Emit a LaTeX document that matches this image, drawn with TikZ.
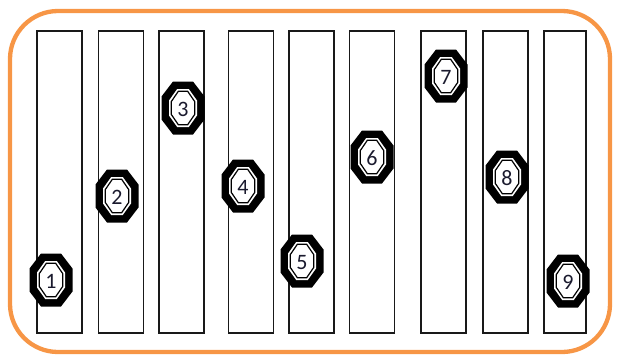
\documentclass[tikz,border=0pt]{standalone}
\usepackage{fontspec}
\newfontfamily\numfont{Carlito}
\definecolor{frameorange}{HTML}{F79646}
\definecolor{digitcol}{HTML}{1A1A2E}
\tikzset{
  bar/.style={draw=black!90, line width=1.5pt, fill=white, minimum width=45pt, minimum height=302pt, inner sep=0pt, anchor=north west},
  numtxt/.style={font=\numfont\fontsize{22}{22}\selectfont, text=digitcol, inner sep=0pt},
}
% octagon path: centre x,y ; half width a ; half height b ; cuts cx, cy
\newcommand\octp[6]{({#1-#3+#5},{#2-#4}) -- ({#1+#3-#5},{#2-#4}) -- ({#1+#3},{#2-#4+#6}) -- ({#1+#3},{#2+#4-#6}) -- ({#1+#3-#5},{#2+#4}) -- ({#1-#3+#5},{#2+#4}) -- ({#1-#3},{#2+#4-#6}) -- ({#1-#3},{#2-#4+#6}) -- cycle}
\newcommand\badge[4]{%
  \fill[black] \octp{#2}{#3}{21.5}{26.5}{11.5}{15};
  \fill[white] \octp{#2}{#3}{14}{19}{8.2}{11.5};
  \draw[black, line width=1.2pt, fill=white, line join=miter] \octp{#2}{#3}{11.8}{16.8}{7.2}{10.5};
  \node[numtxt] (#1) at (#2,#3+1.5) {#4};
}
\begin{document}
\begin{tikzpicture}[x=1pt,y=-1pt]
\useasboundingbox (0,0) rectangle (617,356);
\draw[frameorange, line width=4.3pt, rounded corners=48pt] (10,11) rectangle (610,352);
\node[bar] (r1) at (36,30) {};
\node[bar] (r2) at (97.5,30) {};
\node[bar] (r3) at (158,30) {};
\node[bar] (r4) at (227.5,30) {};
\node[bar] (r5) at (288,30) {};
\node[bar] (r6) at (348.5,30) {};
\node[bar] (r7) at (420,30) {};
\node[bar] (r8) at (482,30) {};
\node[bar, minimum width=42pt] (r9) at (543,30) {};
\badge{n1}{51}{280}{1}
\badge{n2}{117}{196}{2}
\badge{n3}{183}{108}{3}
\badge{n4}{243}{186}{4}
\badge{n5}{302}{261}{5}
\badge{n6}{372}{157}{6}
\badge{n7}{446}{76}{7}
\badge{n8}{507}{177}{8}
\badge{n9}{568}{281}{9}
\end{tikzpicture}
\end{document}
